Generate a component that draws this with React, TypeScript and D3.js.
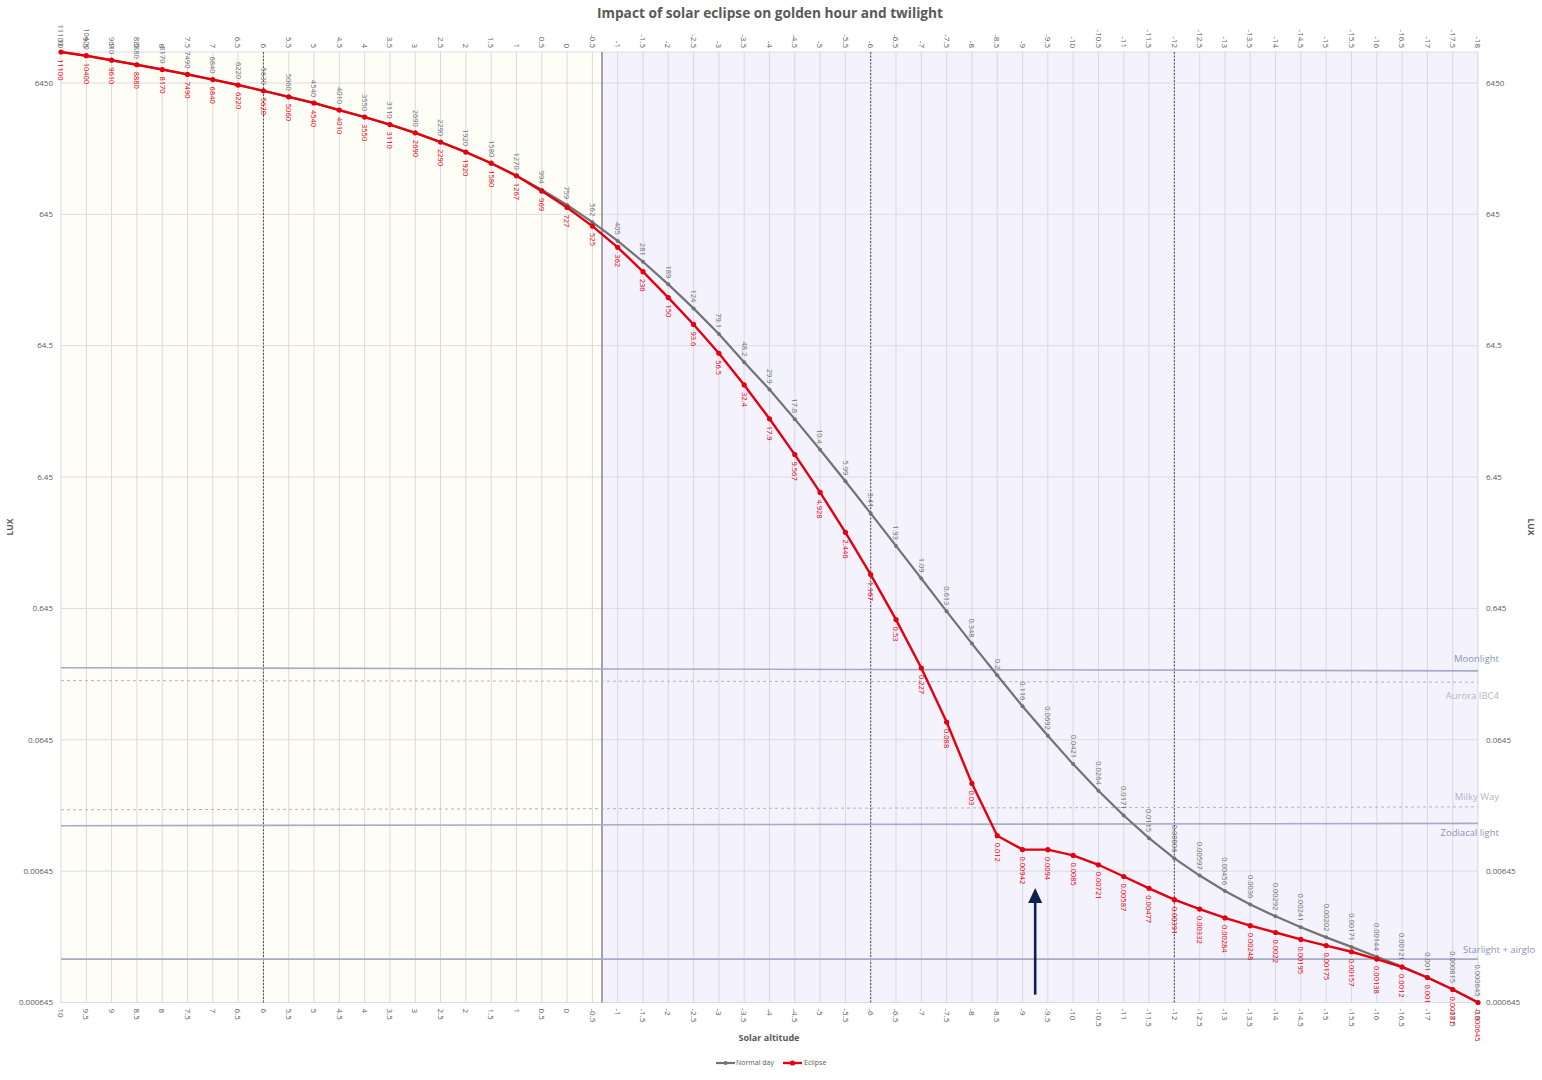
import React from "react";
import * as d3 from "d3";

const altitudes: number[] = d3.range(0, 57).map((i) => 10 - i * 0.5);

const normalDay: number[] = [
  11100, 10400, 9610, 8880, 8170, 7490, 6840, 6220, 5630, 5060, 4540, 4010, 3550, 3110, 2690, 2290,
  1920, 1580, 1270, 994, 759, 562, 405, 281, 189, 124, 79.1, 48.2, 29.9, 17.8, 10.4, 5.99, 3.41,
  1.93, 1.09, 0.613, 0.348, 0.2, 0.116, 0.0692, 0.0421, 0.0264, 0.0171, 0.0115, 0.00806, 0.00597,
  0.00456, 0.0036, 0.00292, 0.00241, 0.00202, 0.00171, 0.00144, 0.00121, 0.001, 0.000815, 0.000645,
];

const eclipse: number[] = [
  11100, 10400, 9610, 8880, 8170, 7490, 6840, 6220, 5620, 5060, 4540, 4010, 3550, 3110, 2690, 2290,
  1920, 1580, 1267, 969, 727, 525, 362, 236, 150, 93.6, 56.5, 32.4, 17.9, 9.567, 4.928, 2.446, 1.167,
  0.53, 0.227, 0.088, 0.03, 0.012, 0.00942, 0.0094, 0.0085, 0.00721, 0.00587, 0.00477, 0.00391,
  0.00332, 0.00284, 0.00248, 0.0022, 0.00195, 0.00175, 0.00157, 0.00138, 0.0012, 0.001, 0.00081,
  0.000645,
];

const yTicks: number[] = [0.000645, 0.00645, 0.0645, 0.645, 6.45, 64.5, 645, 6450];
const yMin = 0.000645;
const yMax = 11100;

// reference light levels (value at left end, value at right end)
const refNames: string[] = ["Moonlight", "Aurora IBC4", "Milky Way", "Zodiacal light", "Starlight + airglo"];
const refStart: number[] = [0.228, 0.182, 0.0189, 0.0143, 0.00138];
const refEnd: number[] = [0.216, 0.177, 0.0199, 0.0149, 0.00138];
const refDashed: boolean[] = [false, true, true, false, false];

const sunsetAltitude = -0.69;
const dashedAltitudes: number[] = [6, -6, -12];

const arrowAltitude = -9.25;
const arrowFrom = 0.00074;
const arrowTo = 0.0048;

export default function App() {
  const W = 1542;
  const H = 1080;
  const left = 61;
  const right = 1478;
  const top = 52;
  const bottom = 1002.5;

  const x = d3.scaleLinear().domain([10, -18]).range([left, right]);
  const y = d3.scaleLog().domain([yMin, yMax]).range([bottom, top]);

  const line = d3
    .line<number>()
    .x((_, i) => x(altitudes[i]))
    .y((d) => y(d));

  const font = "'Open Sans', 'DejaVu Sans', sans-serif";
  const tickColor = "#595959";
  const grayColor = "#737373";
  const redColor = "#E3000F";
  const refSolid = "#A7ACC6";
  const refDash = "#B3B3C3";
  const refLabelDark = "#8B92B6";
  const refLabelLight = "#B2B6CB";

  const labelOffsets = [
    { dy: -9, anchor: "end", lx: 1499, color: refLabelDark },
    { dy: 17, anchor: "end", lx: 1499, color: refLabelLight },
    { dy: -7, anchor: "end", lx: 1499, color: refLabelLight },
    { dy: 13, anchor: "end", lx: 1499, color: refLabelDark },
    { dy: -6, anchor: "start", lx: 1463, color: refLabelDark },
  ];

  const ax = x(arrowAltitude);
  const aTop = y(arrowTo);
  const aBot = y(arrowFrom);

  return (
    <svg width={W} height={H} style={{ display: "block", position: "absolute", left: 0, top: 0 }} fontFamily={font}>
      <rect x={0} y={0} width={W} height={H} fill="#ffffff" />
      {/* backgrounds */}
      <rect x={x(10)} y={top} width={x(sunsetAltitude) - x(10)} height={bottom - top} fill="#FEFEF6" />
      <rect x={x(sunsetAltitude)} y={top} width={x(-18) - x(sunsetAltitude)} height={bottom - top} fill="#F4F2FC" />

      {/* vertical grid */}
      {altitudes.map((a, i) => (
        <line key={"vg" + i} x1={x(a)} x2={x(a)} y1={top} y2={bottom} stroke="#D9D8E0" strokeWidth={1} />
      ))}
      {/* horizontal grid */}
      {yTicks.map((t, i) => (
        <line key={"hg" + i} x1={left} x2={right} y1={y(t)} y2={y(t)} stroke="#DCDBE3" strokeWidth={1} />
      ))}
      <line x1={left} x2={right} y1={top} y2={top} stroke="#DCDBE3" strokeWidth={1} />

      {/* twilight boundaries */}
      <line x1={x(sunsetAltitude)} x2={x(sunsetAltitude)} y1={top} y2={bottom} stroke="#8C8C94" strokeWidth={1.6} />
      {dashedAltitudes.map((a, i) => (
        <line key={"dl" + i} x1={x(a)} x2={x(a)} y1={top} y2={bottom} stroke="#3A3A3A" strokeWidth={0.9} strokeDasharray="2,1.5" />
      ))}

      {/* reference light lines */}
      {refNames.map((n, i) => (
        <g key={"ref" + i}>
          <line
            x1={left}
            x2={right}
            y1={y(refStart[i])}
            y2={y(refEnd[i])}
            stroke={refDashed[i] ? refDash : refSolid}
            strokeWidth={refDashed[i] ? 1 : 1.6}
            strokeDasharray={refDashed[i] ? "3,3" : undefined}
          />
          <text
            x={labelOffsets[i].lx}
            y={y(refEnd[i]) + labelOffsets[i].dy}
            textAnchor={labelOffsets[i].anchor as any}
            fontSize={9.5}
            fill={labelOffsets[i].color}
          >
            {n}
          </text>
        </g>
      ))}

      {/* series */}
      <path d={line(normalDay) || ""} fill="none" stroke={grayColor} strokeWidth={2.2} />
      {normalDay.map((v, i) => (
        <circle key={"nd" + i} cx={x(altitudes[i])} cy={y(v)} r={2} fill={grayColor} />
      ))}
      <path d={line(eclipse) || ""} fill="none" stroke={redColor} strokeWidth={2.4} />
      {eclipse.map((v, i) => (
        <circle key={"ec" + i} cx={x(altitudes[i])} cy={y(v)} r={2.6} fill={redColor} />
      ))}

      {/* data labels */}
      {normalDay.map((v, i) => {
        const px = x(altitudes[i]);
        const py = y(v) - 6;
        return (
          <text
            key={"ndl" + i}
            transform={`translate(${px},${py}) rotate(90)`}
            textAnchor="end"
            dy="0.35em"
            fontSize={7.5}
            fill="#707070"
          >
            {String(v)}
          </text>
        );
      })}
      {eclipse.map((v, i) => {
        const px = x(altitudes[i]);
        const py = y(v) + 7;
        return (
          <text
            key={"ecl" + i}
            transform={`translate(${px},${py}) rotate(90)`}
            textAnchor="start"
            dy="0.35em"
            fontSize={7.5}
            fill={redColor}
          >
            {String(v)}
          </text>
        );
      })}

      {/* arrow */}
      <line x1={ax} x2={ax} y1={aBot} y2={aTop + 12} stroke="#0D1F4F" strokeWidth={2.6} />
      <path d={`M${ax},${aTop} L${ax - 7},${aTop + 15} L${ax + 7},${aTop + 15} Z`} fill="#0D1F4F" />

      {/* y axis labels */}
      {yTicks.map((t, i) => (
        <g key={"yt" + i}>
          <text x={53} y={y(t)} dy="0.35em" textAnchor="end" fontSize={8} fill={tickColor}>
            {String(t)}
          </text>
          <text x={1486} y={y(t)} dy="0.35em" textAnchor="start" fontSize={8} fill={tickColor}>
            {String(t)}
          </text>
        </g>
      ))}

      {/* x axis labels (bottom & top) */}
      {altitudes.map((a, i) => (
        <g key={"xt" + i}>
          <text
            transform={`translate(${x(a)},${bottom + 6}) rotate(90)`}
            textAnchor="start"
            dy="0.35em"
            fontSize={8}
            fill={tickColor}
          >
            {String(a)}
          </text>
          <text
            transform={`translate(${x(a)},${top - 4}) rotate(90)`}
            textAnchor="end"
            dy="0.35em"
            fontSize={8}
            fill={tickColor}
          >
            {String(a)}
          </text>
        </g>
      ))}

      {/* titles */}
      <text x={770} y={18} textAnchor="middle" fontSize={14} fontWeight={700} fill="#595959" textLength={346} lengthAdjust="spacingAndGlyphs">
        Impact of solar eclipse on golden hour and twilight
      </text>
      <text x={769} y={1041} textAnchor="middle" fontSize={9} fontWeight={700} fill="#595959">
        Solar altitude
      </text>
      <text transform={`translate(13,527) rotate(-90)`} textAnchor="middle" fontSize={8.5} fontWeight={700} fill="#595959">
        LUX
      </text>
      <text transform={`translate(1528,527) rotate(90)`} textAnchor="middle" fontSize={8.5} fontWeight={700} fill="#595959">
        LUX
      </text>

      {/* legend */}
      <g>
        <line x1={716} x2={735} y1={1063} y2={1063} stroke={grayColor} strokeWidth={2.2} />
        <circle cx={725.5} cy={1063} r={2} fill={grayColor} />
        <text x={736} y={1063} dy="0.35em" fontSize={7} fill="#595959">
          Normal day
        </text>
        <line x1={783} x2={802} y1={1063} y2={1063} stroke={redColor} strokeWidth={2.4} />
        <circle cx={792.5} cy={1063} r={2.6} fill={redColor} />
        <text x={804} y={1063} dy="0.35em" fontSize={7} fill="#595959">
          Eclipse
        </text>
      </g>
    </svg>
  );
}
